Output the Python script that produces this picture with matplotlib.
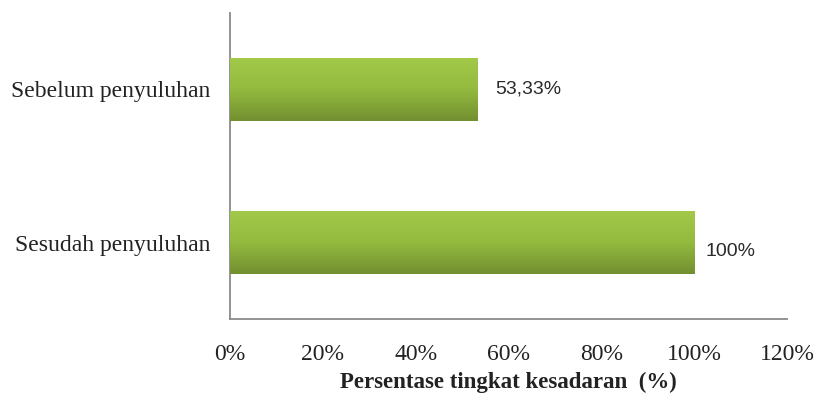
import matplotlib
matplotlib.use("Agg")
import matplotlib.pyplot as plt
import numpy as np
from matplotlib.colors import LinearSegmentedColormap

categories = ["Sebelum penyuluhan", "Sesudah penyuluhan"]
values = [53.33, 100]
value_labels = ["53,33%", "100%"]
xticks = [0, 20, 40, 60, 80, 100, 120]
xtick_labels = ["0%", "20%", "40%", "60%", "80%", "100%", "120%"]
xlabel = "Persentase tingkat kesadaran  (%)"

plt.rcParams['font.family'] = ['Liberation Serif', 'DejaVu Serif']

fig = plt.figure(figsize=(8.17, 3.94), dpi=100)
ax = fig.add_axes([230/817, (394-319)/394, (787-230)/817, (319-13)/394])

y = np.arange(len(categories))
bars = ax.barh(y, values, height=0.41, color="#8db43a", zorder=2)

# gradient fill on bars
cmap = LinearSegmentedColormap.from_list("g", ["#a3c94a", "#93ba3e", "#738f31"])
grad = np.linspace(0, 1, 256).reshape(-1, 1)
for b in bars:
    x0, y0 = b.get_x(), b.get_y()
    w, h = b.get_width(), b.get_height()
    im = ax.imshow(grad, extent=[x0, x0 + w, y0 + h, y0], aspect="auto",
                   cmap=cmap, zorder=3, interpolation="bilinear")
    im.set_clip_path(b)
    b.set_facecolor("none")
    b.set_edgecolor("none")

offsets = [(13, 0), (8, -6.5)]
for b, lab, off in zip(bars, value_labels, offsets):
    ax.annotate(lab, xy=(b.get_width(), b.get_y() + b.get_height()/2),
                xytext=off, textcoords="offset points", ha="left", va="center",
                fontsize=14, color="#2a2a2a", family=["Liberation Sans", "DejaVu Sans"])

ax.set_xlim(0, 120)
ax.set_ylim(len(categories) - 0.5, -0.5)
ax.set_yticks(y)
ax.set_yticklabels(categories, fontsize=17, color="#222222")
ax.set_xticks(xticks)
ax.set_xticklabels(xtick_labels, fontsize=17, color="#222222")
ax.tick_params(axis="both", length=0)
ax.tick_params(axis="x", pad=18)
ax.tick_params(axis="y", pad=14)
ax.set_xlabel(xlabel, fontsize=16.5, fontweight="bold", color="#222222", labelpad=5)

for s in ["top", "right"]:
    ax.spines[s].set_visible(False)
for s in ["left", "bottom"]:
    ax.spines[s].set_color("#8a8a8a")
    ax.spines[s].set_linewidth(1.3)

fig.savefig("out.png", dpi=100)
